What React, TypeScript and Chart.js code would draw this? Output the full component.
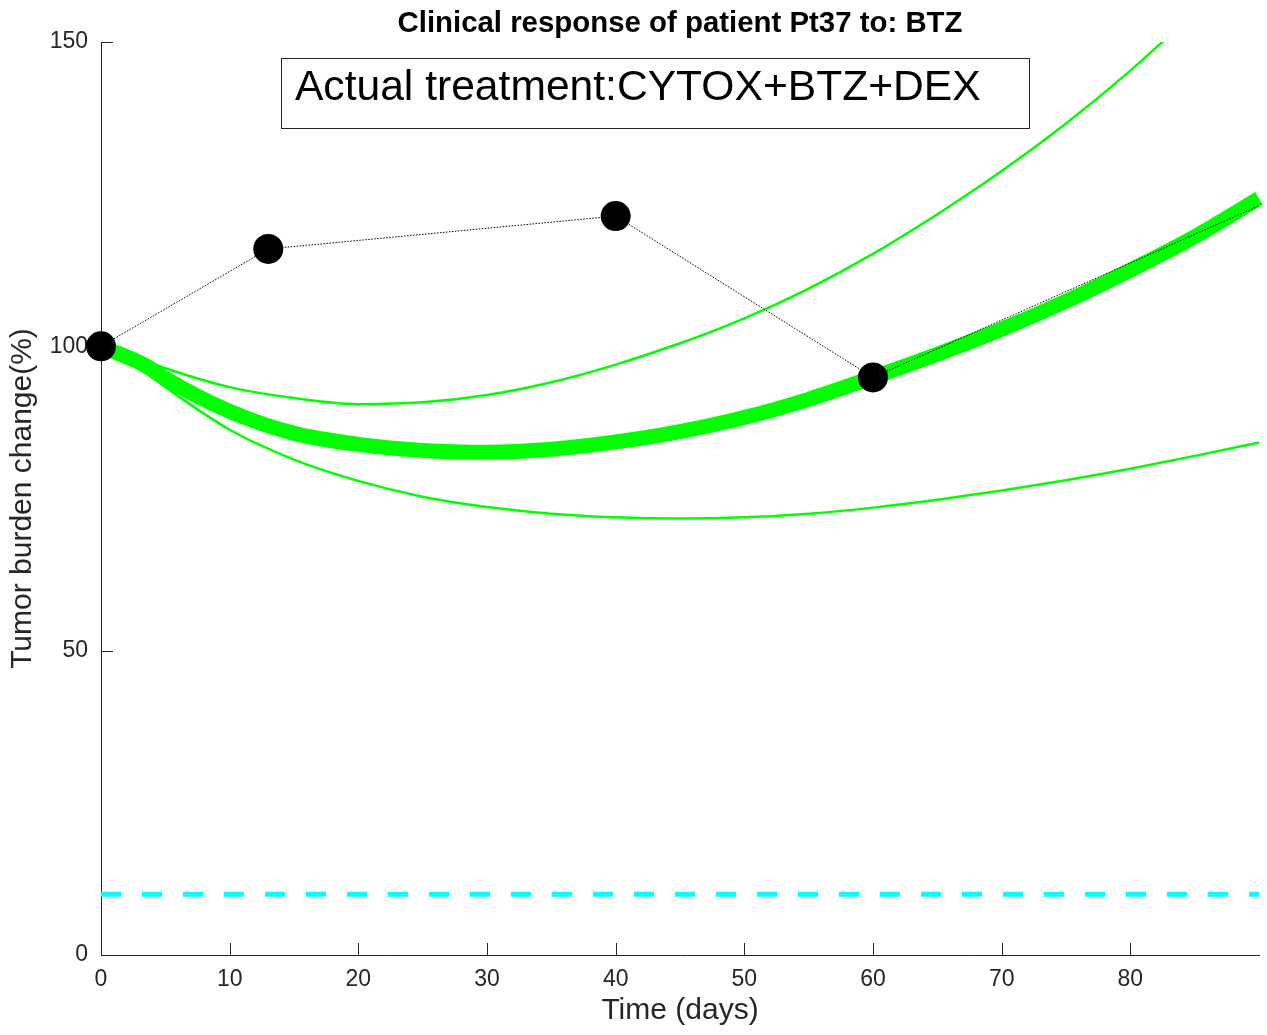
import React, { useEffect, useRef } from 'react';
import { Chart, registerables } from 'chart.js';

Chart.register(...registerables);

const TITLE = 'Clinical response of patient Pt37 to: BTZ';
const ANNOTATION = 'Actual treatment:CYTOX+BTZ+DEX';
const X_LABEL = 'Time (days)';
const Y_LABEL = 'Tumor burden change(%)';

const xTickValues = [0, 10, 20, 30, 40, 50, 60, 70, 80];
const yTickValues = [0, 50, 100, 150];

// observed measurements (last point = end of projection, no marker)
const observedDays = [0, 13, 40, 60, 90];
const observedBurden = [100, 116, 121.4, 94.9, 123.1];
const observedMarker = [true, true, true, true, false];

// model curves
const modelDays = [0, 3.5, 5, 10, 15, 20, 25, 30, 35, 40, 45, 50, 55, 60, 65, 70, 75, 80, 85, 90];
const bestFit = [100, 96.8, 94.7, 89.3, 85.7, 83.9, 82.9, 82.6, 83.1, 84.3, 86.0, 88.3, 91.3, 94.9, 98.7, 102.8, 107.4, 112.5, 118.0, 124.3];
const upperBound = [100, 97.6, 96.4, 93.3, 91.5, 90.5, 90.8, 92.0, 94.1, 97.0, 100.5, 104.6, 109.5, 115.2, 121.7, 128.8, 136.6, 145.3, 155.0, 165.5];
const lowerBound = [100, 95.6, 93.3, 86.3, 81.4, 77.9, 75.3, 73.6, 72.5, 71.9, 71.7, 71.9, 72.5, 73.5, 74.8, 76.3, 78.0, 79.9, 82.0, 84.2];

// response threshold
const thresholdDays = [0, 90];
const thresholdLevel = [10, 10];

const FONT = '"Liberation Sans", Arial, Helvetica, sans-serif';
const AXIS = '#262626';
const GREEN = '#00ff00';
const CYAN = '#00ffff';

function pts(xs: number[], ys: number[]) {
  return xs.map((x, i) => ({ x, y: ys[i] }));
}

export default function App() {
  const ref = useRef<HTMLCanvasElement>(null);

  useEffect(() => {
    const canvas = ref.current!;
    const ticksPlugin = {
      id: 'inwardTicks',
      beforeDatasetsDraw(chart: any) {
        const { ctx, chartArea: a, scales } = chart;
        ctx.save();
        ctx.strokeStyle = AXIS;
        ctx.lineWidth = 1;
        const len = 12;
        xTickValues.forEach((v) => {
          const px = Math.round(scales.x.getPixelForValue(v)) + 0.5;
          ctx.beginPath();
          ctx.moveTo(px, a.bottom);
          ctx.lineTo(px, a.bottom - len);
          ctx.stroke();
        });
        yTickValues.forEach((v) => {
          const py = Math.round(scales.y.getPixelForValue(v)) + 0.5;
          ctx.beginPath();
          ctx.moveTo(a.left, py);
          ctx.lineTo(a.left + len, py);
          ctx.stroke();
        });
        ctx.restore();
      },
    };
    const overlayPlugin = {
      id: 'overlay',
      afterDraw(chart: any) {
        const { ctx, chartArea: a } = chart;
        const w = a.right - a.left;
        const h = a.bottom - a.top;
        ctx.save();
        // title
        ctx.fillStyle = '#000';
        ctx.font = `bold 29.4px ${FONT}`;
        ctx.textAlign = 'center';
        ctx.textBaseline = 'middle';
        ctx.fillText(TITLE, (a.left + a.right) / 2, a.top - 18);
        // annotation box
        const bx = a.left + 0.1554 * w;
        const by = a.top + 0.0175 * h;
        const bw = 0.6459 * w;
        const bh = 0.0767 * h;
        ctx.fillStyle = '#fff';
        ctx.fillRect(bx, by, bw, bh);
        ctx.strokeStyle = AXIS;
        ctx.lineWidth = 1;
        ctx.strokeRect(Math.round(bx) + 0.5, Math.round(by) + 0.5, Math.round(bw), Math.round(bh));
        ctx.fillStyle = '#000';
        ctx.font = `42.6px ${FONT}`;
        ctx.textAlign = 'left';
        ctx.textBaseline = 'alphabetic';
        ctx.fillText(ANNOTATION, bx + 14, by + 42);
        ctx.restore();
      },
    };

    const chart = new Chart(canvas, {
      type: 'line',
      data: {
        datasets: [
          {
            label: 'observed',
            data: pts(observedDays, observedBurden),
            borderColor: '#000',
            borderWidth: 1,
            borderDash: [1.5, 1.5],
            tension: 0,
            pointRadius: observedMarker.map((m) => (m ? 15 : 0)),
            pointBackgroundColor: '#000',
            pointBorderColor: '#000',
            pointBorderWidth: 0,
            clip: false as any,
          },
          {
            label: 'best fit',
            data: pts(modelDays, bestFit),
            borderColor: GREEN,
            borderWidth: 15,
            cubicInterpolationMode: 'monotone',
            pointRadius: 0,
            clip: { left: 20, right: 8, top: 0, bottom: 20 } as any,
          },
          {
            label: 'upper',
            data: pts(modelDays, upperBound),
            borderColor: GREEN,
            borderWidth: 2.5,
            cubicInterpolationMode: 'monotone',
            pointRadius: 0,
            clip: { left: 20, right: 4, top: 0, bottom: 20 } as any,
          },
          {
            label: 'lower',
            data: pts(modelDays, lowerBound),
            borderColor: GREEN,
            borderWidth: 2.5,
            cubicInterpolationMode: 'monotone',
            pointRadius: 0,
            clip: { left: 20, right: 4, top: 0, bottom: 20 } as any,
          },
          {
            label: 'threshold',
            data: pts(thresholdDays, thresholdLevel),
            borderColor: CYAN,
            borderWidth: 5,
            borderDash: [20, 21],
            pointRadius: 0,
          },
        ],
      },
      options: {
        animation: false,
        responsive: false,
        devicePixelRatio: 1,
        events: [],
        layout: { autoPadding: false, padding: { left: 0, right: 8, top: 42, bottom: 0 } },
        plugins: {
          legend: { display: false },
          tooltip: { enabled: false },
          title: { display: false },
        },
        scales: {
          x: {
            type: 'linear',
            min: 0,
            max: 90,
            afterBuildTicks: (s: any) => {
              s.ticks = xTickValues.map((v) => ({ value: v }));
            },
            afterFit: (s: any) => {
              s.height = 80;
              s.paddingRight = 0;
              s.paddingLeft = 0;
            },
            grid: { display: false, drawTicks: false },
            border: { display: true, color: AXIS, width: 1 },
            ticks: {
              color: AXIS,
              font: { family: FONT, size: 23 },
              padding: 11,
              maxRotation: 0,
              autoSkip: false,
            },
            title: {
              display: true,
              text: X_LABEL,
              color: AXIS,
              font: { family: FONT, size: 30 },
              padding: { top: 0, bottom: 6 },
            },
          },
          y: {
            type: 'linear',
            min: 0,
            max: 150,
            afterBuildTicks: (s: any) => {
              s.ticks = yTickValues.map((v) => ({ value: v }));
            },
            afterFit: (s: any) => {
              s.width = 101;
            },
            grid: { display: false, drawTicks: false },
            border: { display: true, color: AXIS, width: 1 },
            ticks: {
              color: AXIS,
              font: { family: FONT, size: 23 },
              padding: 13,
              autoSkip: false,
            },
            title: {
              display: true,
              text: Y_LABEL,
              color: AXIS,
              font: { family: FONT, size: 30 },
              padding: { top: 5, bottom: 0 },
            },
          },
        },
      } as any,
      plugins: [ticksPlugin, overlayPlugin],
    });
    return () => chart.destroy();
  }, []);

  return (
    <div style={{ position: 'absolute', left: 0, top: 0, width: 1267, height: 1035, background: '#fff' }}>
      <canvas ref={ref} width={1267} height={1035} style={{ display: 'block', width: 1267, height: 1035 }} />
    </div>
  );
}
